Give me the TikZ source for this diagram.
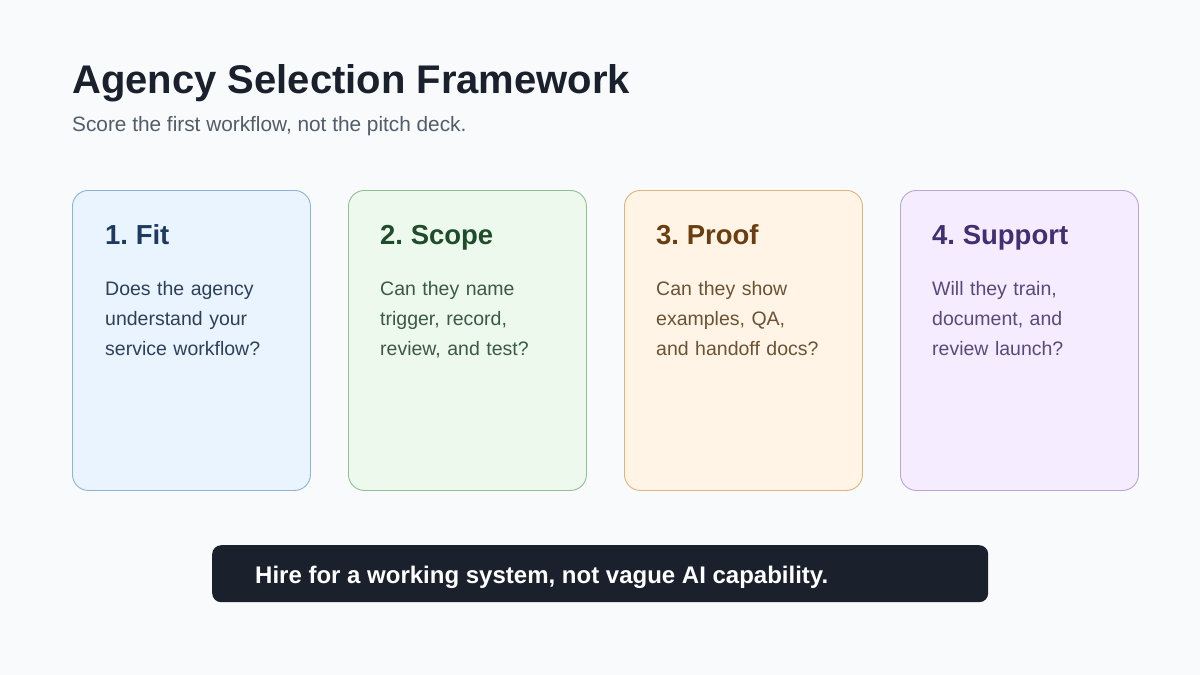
\documentclass[tikz,border=0pt]{standalone}
\usepackage{fontspec}
\setmainfont{Liberation Sans}
\usepackage{xcolor}
\usetikzlibrary{positioning}
\frenchspacing

\definecolor{pagebg}{HTML}{F8FAFC}
\definecolor{inkdark}{HTML}{1A202C}
\definecolor{subgray}{HTML}{525C6B}
\definecolor{fitfill}{HTML}{EAF4FF}
\definecolor{fitdraw}{HTML}{8CB4D8}
\definecolor{fithead}{HTML}{1E3A5F}
\definecolor{fittext}{HTML}{2D405A}
\definecolor{scopefill}{HTML}{EEF9EE}
\definecolor{scopedraw}{HTML}{92BE96}
\definecolor{scopehead}{HTML}{1F4D2C}
\definecolor{scopetext}{HTML}{3A5A42}
\definecolor{prooffill}{HTML}{FFF4E5}
\definecolor{proofdraw}{HTML}{DDB57A}
\definecolor{proofhead}{HTML}{6A3E10}
\definecolor{prooftext}{HTML}{6B5234}
\definecolor{suppfill}{HTML}{F5EDFF}
\definecolor{suppdraw}{HTML}{BAA4D4}
\definecolor{supphead}{HTML}{3F3070}
\definecolor{supptext}{HTML}{574A7A}

\tikzset{
  card/.style={rectangle, rounded corners=16pt, line width=0.9pt,
               minimum width=238pt, minimum height=300pt, anchor=north west, inner sep=0pt},
  cardhead/.style={anchor=base west, inner sep=0pt, font=\fontsize{27.5}{32}\selectfont\bfseries},
  cardtext/.style={anchor=base west, inner sep=0pt, text width=200pt, align=left,
                   font=\fontsize{19.5}{30}\selectfont},
  banner/.style={rectangle, rounded corners=9pt, fill=inkdark, anchor=north west,
                 minimum width=776pt, minimum height=57pt, inner sep=0pt},
}

\begin{document}
\begin{tikzpicture}[x=1pt, y=-1pt]

  % Page
  \fill[pagebg] (0,0) rectangle (1200,675);
  \useasboundingbox (0,0) rectangle (1200,675);

  % Title
  \node[anchor=base west, inner sep=0pt, text=inkdark, font=\fontsize{40}{46}\selectfont\bfseries]
    (title) at (72,93) {Agency Selection Framework};
  \node[anchor=base west, inner sep=0pt, text=subgray, font=\fontsize{20.8}{25}\selectfont]
    (subtitle) at (72,131) {Score the first workflow, not the pitch deck.};

  % Cards
  \node[card, fill=fitfill, draw=fitdraw] (fit) at (72,190) {};
  \node[card, fill=scopefill, draw=scopedraw] (scope) at (348,190) {};
  \node[card, fill=prooffill, draw=proofdraw] (proof) at (624,190) {};
  \node[card, fill=suppfill, draw=suppdraw] (support) at (900,190) {};

  % Headings
  \node[cardhead, text=fithead] (fithd) at (105,244) {1. Fit};
  \node[cardhead, text=scopehead] (scopehd) at (380,244) {2. Scope};
  \node[cardhead, text=proofhead] (proofhd) at (656,244) {3. Proof};
  \node[cardhead, text=supphead] (supphd) at (932,244) {4. Support};

  % Questions
  \node[cardtext, text=fittext] (fitq) at (105,295) {Does the agency\\understand your\\service workflow?};
  \node[cardtext, text=scopetext] (scopeq) at (380,295) {Can they name\\trigger, record,\\review, and test?};
  \node[cardtext, text=prooftext] (proofq) at (656,295) {Can they show\\examples, QA,\\and handoff docs?};
  \node[cardtext, text=supptext] (suppq) at (932,295) {Will they train,\\document, and\\review launch?};

  % Bottom banner
  \node[banner] (bar) at (212,545) {};
  \node[anchor=base west, inner sep=0pt, text=white, font=\fontsize{24}{28}\selectfont\bfseries]
    (bartext) at (255,583) {Hire for a working system, not vague AI capability.};

\end{tikzpicture}
\end{document}
